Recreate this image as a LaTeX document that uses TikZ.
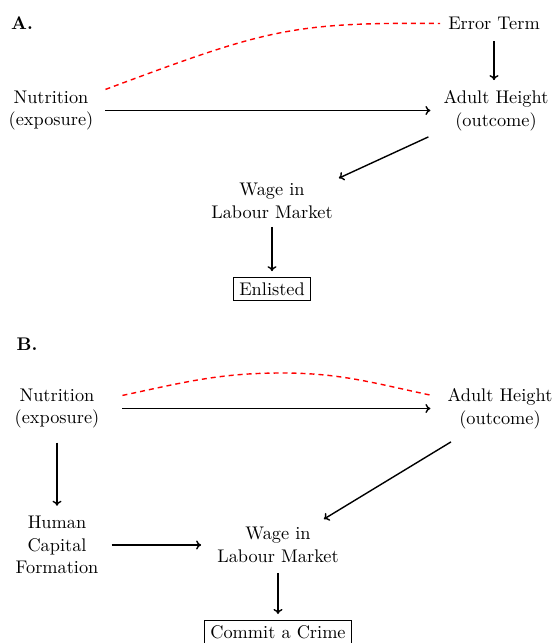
\documentclass[tikz,border=0pt]{standalone}
\usepackage{fontspec}
\setmainfont{lmroman10-regular}[Extension=.otf, BoldFont=lmroman10-bold]
\usetikzlibrary{calc,arrows.meta}
\begin{document}
\begin{tikzpicture}[x=1pt,y=-1pt,
  txt/.style={inner sep=0pt, align=center, font=\fontsize{18.3}{22.7}\selectfont},
  hdr/.style={inner sep=0pt, font=\fontsize{18.3}{22.7}\selectfont\bfseries},
  boxed/.style={draw, line width=0.7pt, inner xsep=6pt, inner ysep=5pt, font=\fontsize{18.3}{22.7}\selectfont},
  arr/.style={-{To[length=5pt,width=9pt]}, line width=1.4pt},
  conf/.style={red, line width=1.4pt, dash pattern=on 5pt off 4pt}]
\useasboundingbox (0,0) rectangle (554,643);
% ---------- Panel A
\node[hdr] (A) at (22,23.5) {A.};
\node[txt] (err) at (494,23.5) {Error Term};
\node[txt] (nutA) at (51,110.5) {Nutrition\\(exposure)};
\node[txt] (adA) at (496,110.5) {Adult Height\\(outcome)};
\node[txt] (wageA) at (272,201) {Wage in\\Labour Market};
\node[boxed] (enl) at (272,289) {Enlisted};

\draw[conf] ([xshift=12pt,yshift=1pt]nutA.north east) .. controls (265,30) and (290,22) .. ([xshift=-8pt]err.west);
\draw[arr, shorten <=11pt, shorten >=10pt] (err.south) -- (err.south |- adA.north);
\draw[arr, shorten <=12pt, shorten >=13pt] (nutA.east) -- (nutA.east -| adA.west);
\draw[arr] ([xshift=-15pt,yshift=-6pt]adA.south west) -- ([xshift=6pt,yshift=5pt]wageA.north east);
\draw[arr, shorten <=8pt, shorten >=6pt] (wageA.south) -- (enl.north);

% ---------- Panel B
\node[hdr] (B) at (27,344) {B.};
\node[txt] (nutB) at (57,408.5) {Nutrition\\(exposure)};
\node[txt] (adB) at (500,408.5) {Adult Height\\(outcome)};
\node[txt] (humB) at (57,545) {Human\\Capital\\Formation};
\node[txt] (wageB) at (278,545) {Wage in\\Labour Market};
\node[boxed] (crime) at (278,632) {Commit a Crime};
\coordinate (peak) at (282,373);

\draw[conf] ([xshift=23pt,yshift=-7pt]nutB.north east) to[out=12,in=180] (peak) to[out=0,in=168] ([xshift=-17pt,yshift=-7pt]adB.north west);
\draw[arr, shorten <=23pt, shorten >=17pt] (nutB.east) -- (nutB.east -| adB.west);
\draw[arr, shorten <=14pt, shorten >=10pt] (nutB.south) -- (humB.north);
\draw[arr, shorten <=13pt, shorten >=16pt] (humB.east) -- (humB.east -| wageB.west);
\draw[arr] ([xshift=-49pt,yshift=-13pt]adB.south) -- ([xshift=-15pt,yshift=8pt]wageB.north east);
\draw[arr, shorten <=10pt, shorten >=6pt] (wageB.south) -- (crime.north);
\end{tikzpicture}
\end{document}
